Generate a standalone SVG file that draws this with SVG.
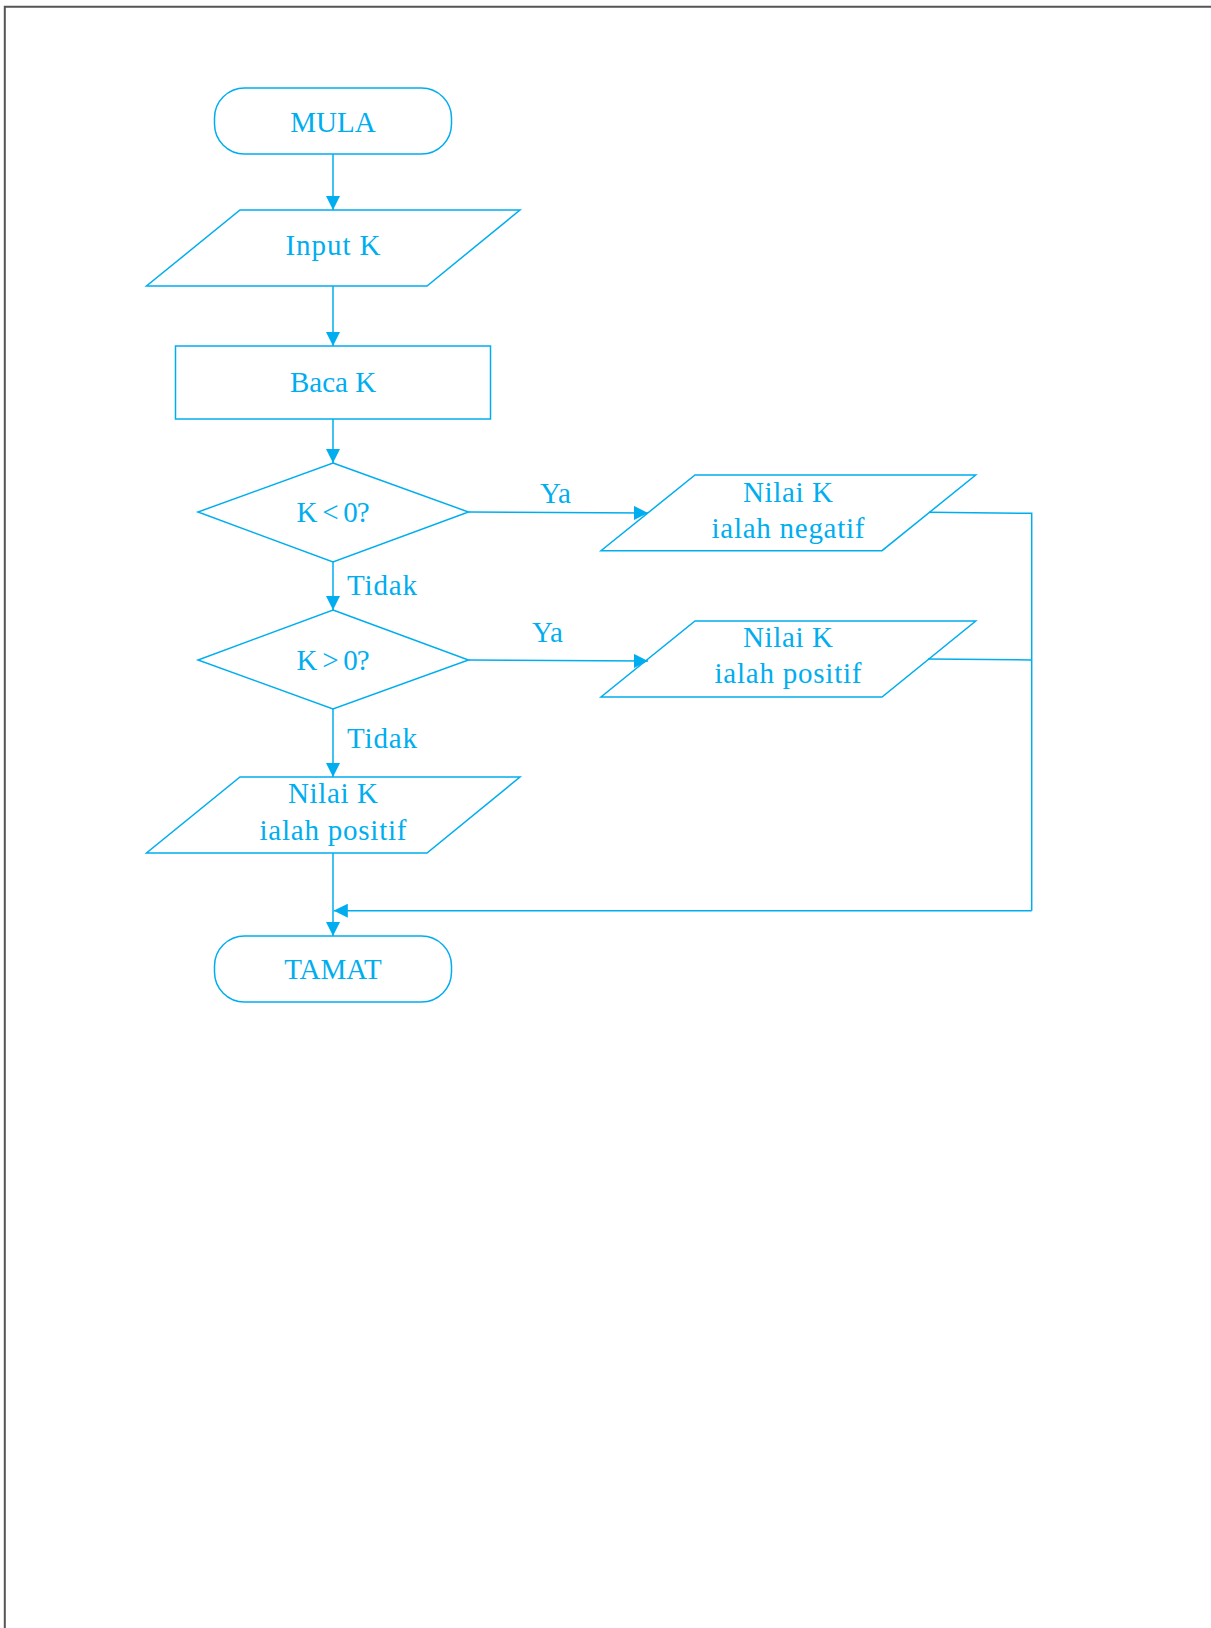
<svg xmlns="http://www.w3.org/2000/svg" width="1211" height="1628" viewBox="0 0 1211 1628">
  <defs>
    <style>
      .shape { fill: none; stroke: #00aeef; stroke-width: 1.5; }
      .line { fill: none; stroke: #00aeef; stroke-width: 1.5; }
      .label { font-family: "Liberation Serif", "Times New Roman", serif; font-size: 29px; fill: #00aeef; text-anchor: middle; }
      .tag { font-family: "Liberation Serif", "Times New Roman", serif; font-size: 29px; fill: #00aeef; }
    </style>
    <marker id="arrow" viewBox="0 0 14 14" refX="14" refY="7" markerWidth="14" markerHeight="14" markerUnits="userSpaceOnUse" orient="auto">
      <path d="M0,0 L14,7 L0,14 Z" fill="#00aeef"/>
    </marker>
  </defs>

  <rect width="1211" height="1628" fill="#ffffff"/>
  <!-- page frame (top and left edges) -->
  <path d="M4.8,1628 V6.8 H1211" fill="none" stroke="#555555" stroke-width="2"/>

  <g id="connectors">
    <line class="line" x1="333" y1="154" x2="333" y2="210" marker-end="url(#arrow)"/>
    <line class="line" x1="333" y1="286" x2="333" y2="346" marker-end="url(#arrow)"/>
    <line class="line" x1="333" y1="419" x2="333" y2="463" marker-end="url(#arrow)"/>
    <line class="line" x1="333" y1="562" x2="333" y2="610" marker-end="url(#arrow)"/>
    <line class="line" x1="333" y1="709" x2="333" y2="777" marker-end="url(#arrow)"/>
    <line class="line" x1="333" y1="853" x2="333" y2="936" marker-end="url(#arrow)"/>
    <line class="line" x1="468.5" y1="512" x2="648" y2="513" marker-end="url(#arrow)"/>
    <line class="line" x1="468.5" y1="660" x2="648" y2="661" marker-end="url(#arrow)"/>
    <polyline class="line" points="929,512.3 1031.7,513.3 1031.7,910.7"/>
    <line class="line" x1="928" y1="659" x2="1031.7" y2="660"/>
    <line class="line" x1="1031.7" y1="910.7" x2="333.8" y2="910.7" marker-end="url(#arrow)"/>
    <text class="tag" x="540" y="503">Ya</text>
    <text class="tag" x="532" y="642">Ya</text>
    <text class="tag" x="347" y="595" textLength="70" lengthAdjust="spacing">Tidak</text>
    <text class="tag" x="347" y="748" textLength="70" lengthAdjust="spacing">Tidak</text>
  </g>

  <g id="mula">
    <rect class="shape" x="214.5" y="88" width="237" height="66" rx="30" ry="30"/>
    <text class="label" x="333" y="132">MULA</text>
  </g>

  <g id="input-k">
    <polygon class="shape" points="240,210 520,210 427,286 146.5,286"/>
    <text class="label" x="333" y="255" textLength="95" lengthAdjust="spacing">Input K</text>
  </g>

  <g id="baca-k">
    <rect class="shape" x="175.5" y="346" width="315" height="73"/>
    <text class="label" x="333" y="392">Baca K</text>
  </g>

  <g id="cek-negatif">
    <polygon class="shape" points="333,463 468.5,512 333,562 198,512"/>
    <text class="label" x="333" y="522" textLength="73" lengthAdjust="spacing">K &lt; 0?</text>
  </g>

  <g id="cek-positif">
    <polygon class="shape" points="333,610 468.5,660 333,709 198,660"/>
    <text class="label" x="333" y="670" textLength="73" lengthAdjust="spacing">K &gt; 0?</text>
  </g>

  <g id="papar-negatif">
    <polygon class="shape" points="695,475 975.7,475 882,550.7 601,550.7"/>
    <text class="label" x="788" y="502" textLength="90" lengthAdjust="spacing">Nilai K</text>
    <text class="label" x="788" y="538" textLength="153" lengthAdjust="spacing">ialah negatif</text>
  </g>

  <g id="papar-positif">
    <polygon class="shape" points="695,621 975.7,621 882,697 601,697"/>
    <text class="label" x="788" y="647" textLength="90" lengthAdjust="spacing">Nilai K</text>
    <text class="label" x="788" y="683" textLength="147" lengthAdjust="spacing">ialah positif</text>
  </g>

  <g id="papar-positif-lain">
    <polygon class="shape" points="240,777 520,777 427,853 146.5,853"/>
    <text class="label" x="333" y="803" textLength="90" lengthAdjust="spacing">Nilai K</text>
    <text class="label" x="333" y="840" textLength="147" lengthAdjust="spacing">ialah positif</text>
  </g>

  <g id="tamat">
    <rect class="shape" x="214.5" y="936" width="237" height="66" rx="30" ry="30"/>
    <text class="label" x="333" y="979">TAMAT</text>
  </g>
</svg>
